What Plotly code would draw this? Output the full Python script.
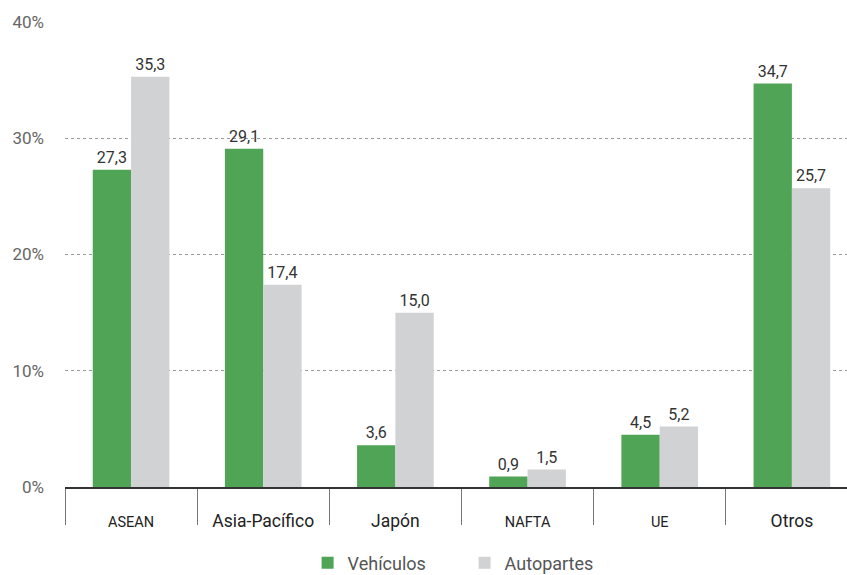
import plotly.graph_objects as go

# Participación por región (%)
regiones = ["ASEAN", "Asia-Pacífico", "Japón", "NAFTA", "UE", "Otros"]
etiquetas = [
    "<span style='font-size:14.5px'>ASEAN</span>",
    "Asia-Pacífico",
    "Japón",
    "<span style='font-size:14.5px'>NAFTA</span>",
    "<span style='font-size:14.5px'>UE</span>",
    "Otros",
]
vehiculos = [27.3, 29.1, 3.6, 0.9, 4.5, 34.7]
autopartes = [35.3, 17.4, 15.0, 1.5, 5.2, 25.7]
ticks_y = [0, 10, 20, 30, 40]
ticks_y_txt = ["0%", "10%", "20%", "30%", "40%"]

VERDE = "#4FA456"
GRIS = "#D1D2D4"
FUENTE = "Roboto"

fig = go.Figure()
fig.add_trace(go.Bar(
    name="Vehículos", x=regiones, y=vehiculos, marker_color=VERDE,
    marker_line_width=0,
    texttemplate="%{y:.1f}", textposition="outside", cliponaxis=False,
    textfont=dict(size=16, color="#333333", family=FUENTE),
))
fig.add_trace(go.Bar(
    name="Autopartes", x=regiones, y=autopartes, marker_color=GRIS,
    marker_line_width=0,
    texttemplate="%{y:.1f}", textposition="outside", cliponaxis=False,
    textfont=dict(size=16, color="#333333", family=FUENTE),
))

fig.update_layout(
    width=847, height=575,
    margin=dict(l=65, r=0, t=22, b=88, autoexpand=False),
    paper_bgcolor="white", plot_bgcolor="white",
    separators=",.",
    barmode="group", bargap=0.42, bargroupgap=0,
    font=dict(family=FUENTE, color="#555555"),
    showlegend=True,
    legend=dict(
        orientation="h", x=0.511, xanchor="center",
        yref="container", y=0.021, yanchor="middle",
        font=dict(size=18, color="#555555", family=FUENTE),
        entrywidth=112, entrywidthmode="pixels", tracegroupgap=0,
    ),
)
fig.update_xaxes(
    tickmode="array", tickvals=regiones, ticktext=etiquetas,
    range=[-0.5, 5.417],
    tickson="boundaries", ticks="outside", ticklen=36, tickwidth=1,
    tickcolor="#777777",
    ticklabelstandoff=17,
    tickfont=dict(size=17.5, color="#222222", family=FUENTE),
    showline=True, linecolor="#333333", linewidth=1.5,
    showgrid=False,
)
fig.update_yaxes(
    range=[0, 40], tickvals=ticks_y, ticktext=ticks_y_txt,
    tickfont=dict(size=17, color="#666666", family=FUENTE),
    ticklabelstandoff=20,
    showgrid=True, gridcolor="#9a9a9a", gridwidth=1, griddash="dot",
    zeroline=False,
)

fig.write_html("out.html")
